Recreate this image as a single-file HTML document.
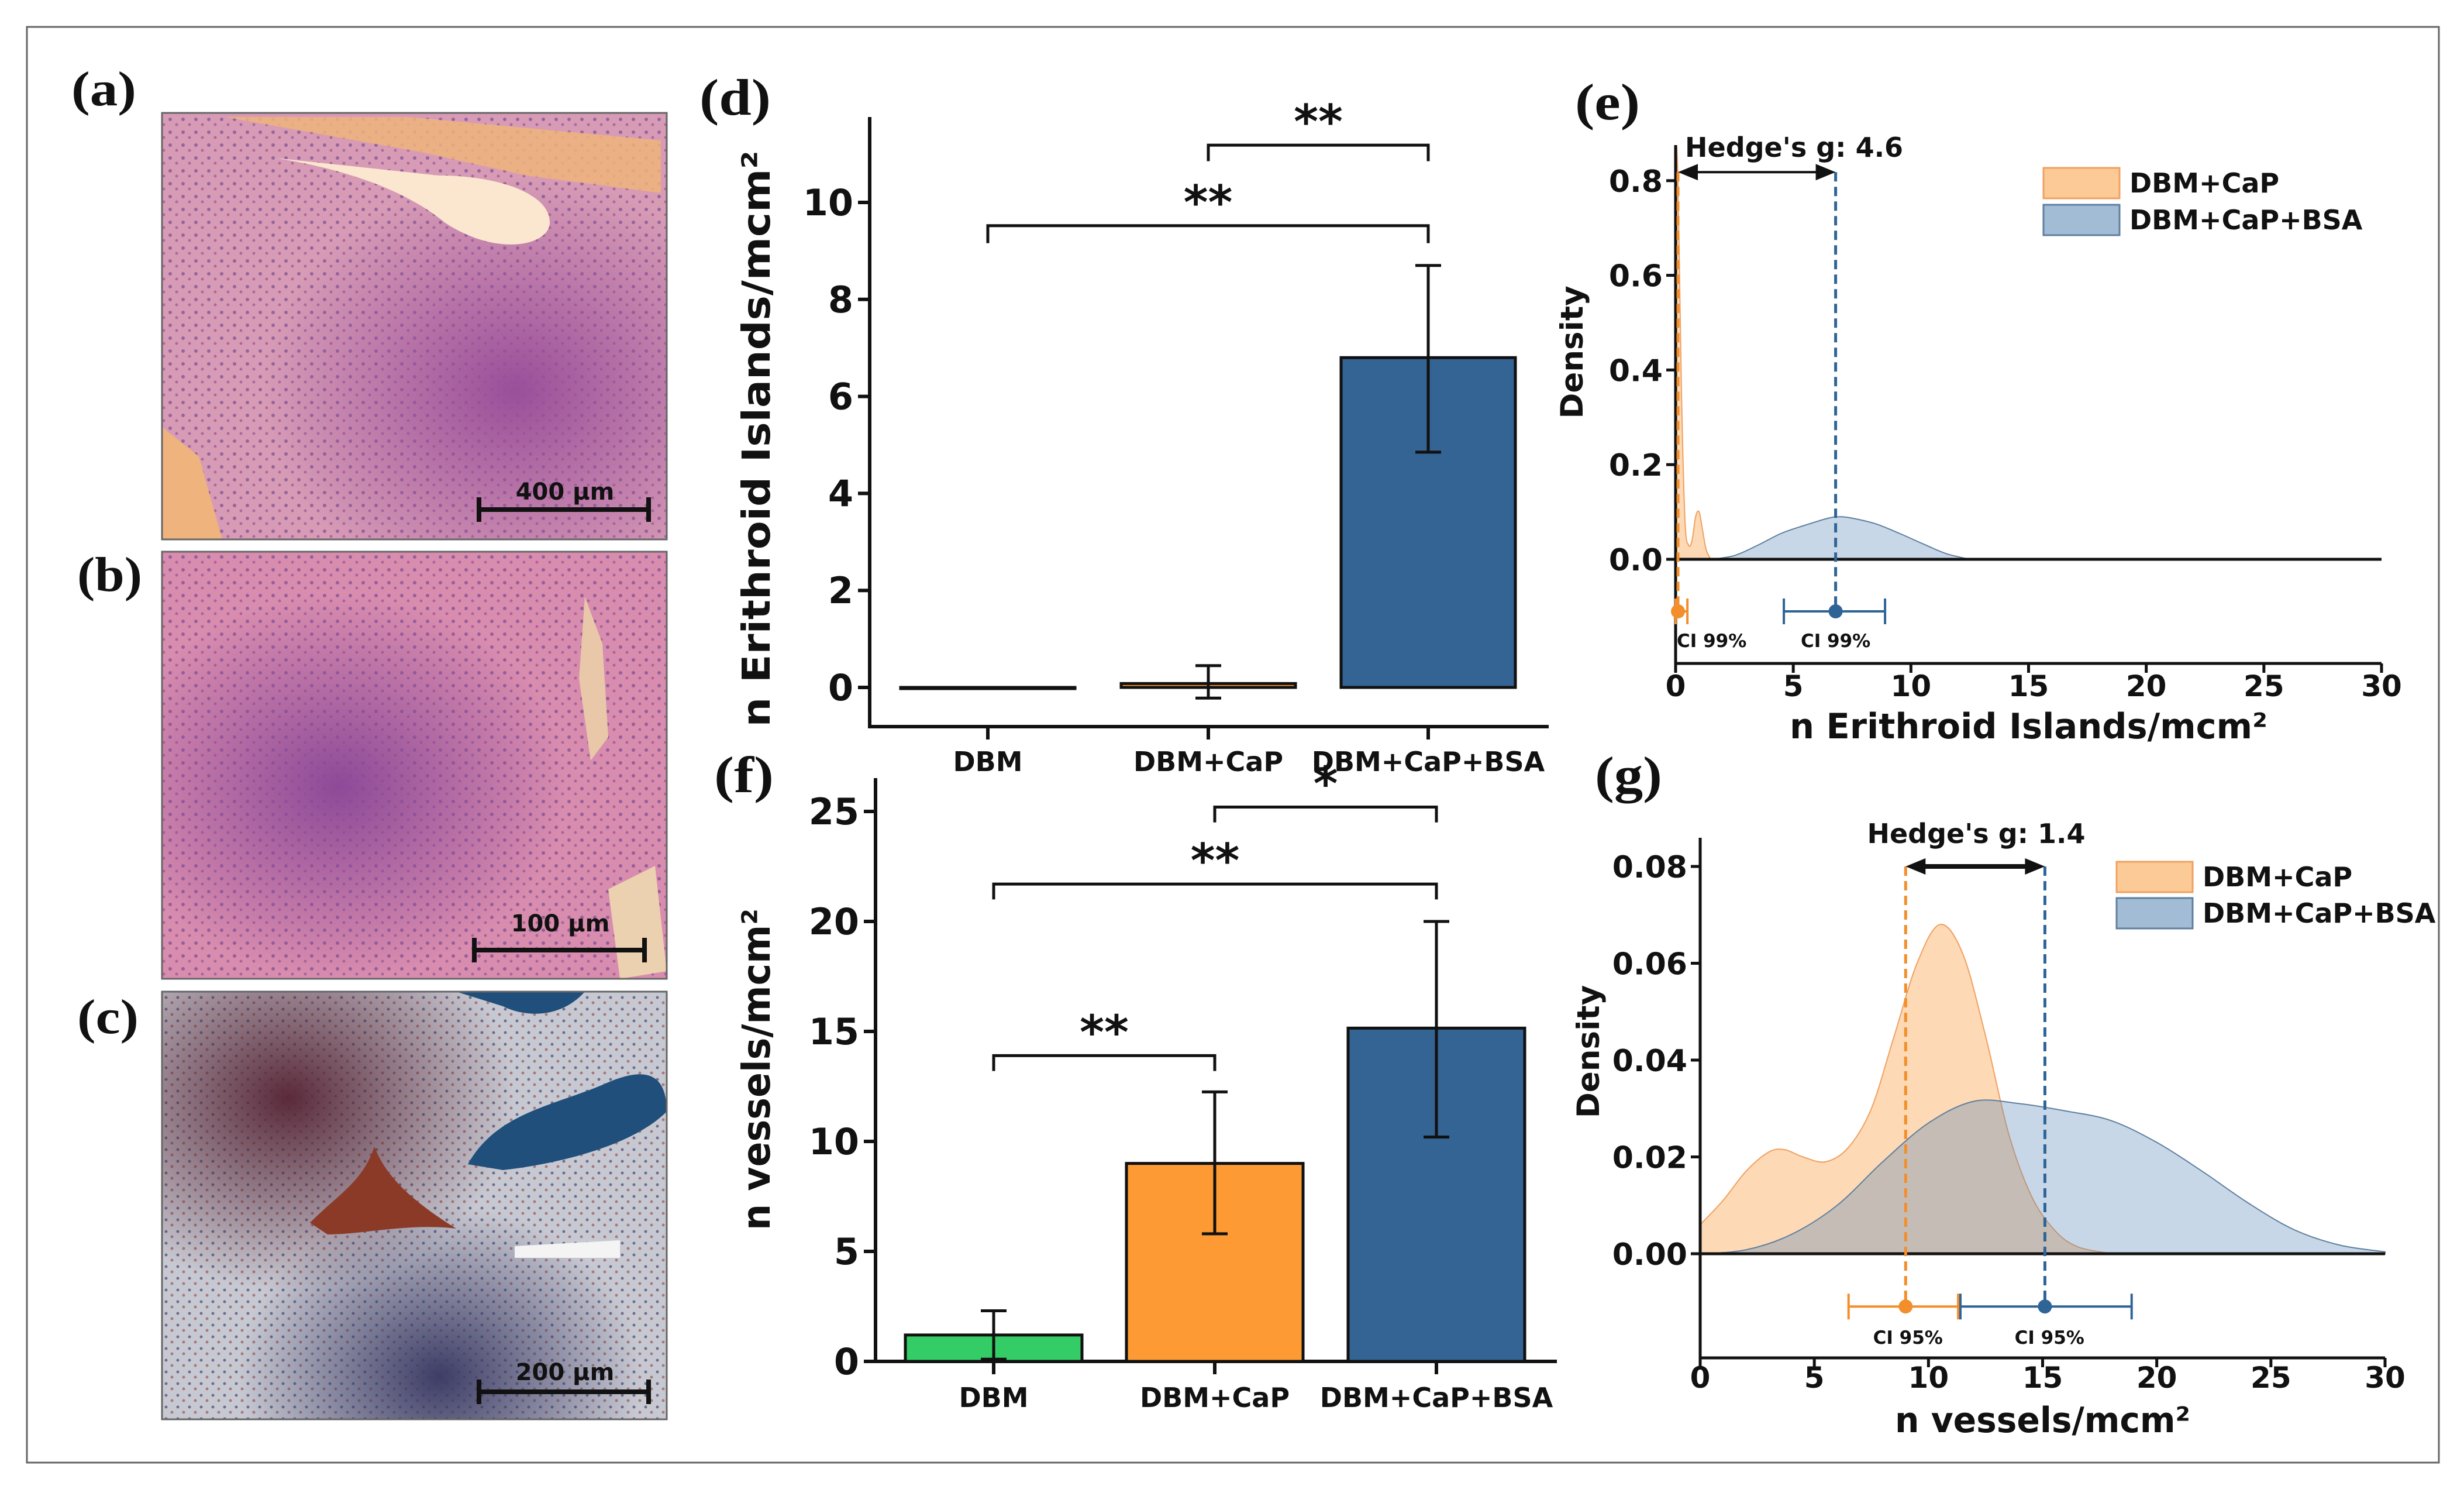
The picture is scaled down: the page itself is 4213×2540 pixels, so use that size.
<!DOCTYPE html>
<html><head><meta charset="utf-8"><style>
html,body{margin:0;padding:0;background:#fff}
svg{display:block}
text{font-family:"DejaVu Sans","Liberation Sans",sans-serif;font-weight:bold;fill:#111}
.lab{font-family:"Liberation Serif",serif;font-weight:bold}
</style></head><body>
<svg id="fig" width="4213" height="2540" viewBox="0 0 4213 2540" xmlns="http://www.w3.org/2000/svg">
<defs>
<radialGradient id="gA2" cx="0.7" cy="0.65" r="0.5"><stop offset="0" stop-color="#9a4f9a"/><stop offset="1" stop-color="#9a4f9a" stop-opacity="0"/></radialGradient>
<radialGradient id="gB1" cx="0.35" cy="0.55" r="0.45"><stop offset="0" stop-color="#8d4a98"/><stop offset="1" stop-color="#8d4a98" stop-opacity="0"/></radialGradient>
<radialGradient id="gC1" cx="0.25" cy="0.25" r="0.45"><stop offset="0" stop-color="#5a2a3a"/><stop offset="1" stop-color="#5a2a3a" stop-opacity="0"/></radialGradient>
<radialGradient id="gC2" cx="0.55" cy="0.9" r="0.4"><stop offset="0" stop-color="#3d3d66"/><stop offset="1" stop-color="#3d3d66" stop-opacity="0"/></radialGradient>
<pattern id="dotsP" width="22" height="22" patternUnits="userSpaceOnUse"><circle cx="5" cy="6" r="3" fill="#6a3f8f" opacity="0.6"/><circle cx="16" cy="15" r="2.5" fill="#7c3c8a" opacity="0.5"/></pattern>
<pattern id="dotsC" width="20" height="20" patternUnits="userSpaceOnUse"><circle cx="4" cy="5" r="2.5" fill="#3a2d5a" opacity="0.6"/><circle cx="14" cy="14" r="2.5" fill="#8a2a2a" opacity="0.5"/></pattern>
<clipPath id="clipE"><rect x="2865" y="248" width="1210" height="900"/></clipPath>
</defs>

<rect x="46" y="46" width="4124" height="2454" fill="none" stroke="#666" stroke-width="3"/>

<g>
<rect x="277" y="193" width="863" height="729" fill="#d79bb5"/>
<rect x="277" y="193" width="863" height="729" fill="url(#dotsP)"/>
<rect x="277" y="193" width="863" height="729" fill="url(#gA2)"/>
<path d="M385 200 L700 200 L1130 240 L1130 330 L900 300 L720 260 Z" fill="#eeb47a" opacity="0.85"/>
<path d="M470 270 C600 290 700 330 760 380 C850 440 940 420 940 380 C940 330 850 300 750 300 Z" fill="#fbe7cf"/>
<path d="M277 730 L340 780 L380 922 L277 922 Z" fill="#efb37e"/>
<rect x="277" y="193" width="863" height="729" fill="none" stroke="#666" stroke-width="3"/>
<line x1="819" y1="871" x2="1109" y2="871" stroke="#111" stroke-width="8"/>
<line x1="819" y1="850" x2="819" y2="892" stroke="#111" stroke-width="8"/>
<line x1="1109" y1="850" x2="1109" y2="892" stroke="#111" stroke-width="8"/>
<text x="966" y="854" font-size="40" text-anchor="middle">400 μm</text>
</g>
<g>
<rect x="277" y="943" width="863" height="730" fill="#d88cae"/>
<rect x="277" y="943" width="863" height="730" fill="url(#dotsP)"/>
<rect x="277" y="943" width="863" height="730" fill="url(#gB1)"/>
<path d="M1000 1020 L1030 1100 L1040 1260 L1010 1300 L990 1160 Z" fill="#e8c8a8"/>
<path d="M1040 1520 L1120 1480 L1140 1660 L1060 1673 Z" fill="#ecd1b0"/>
<rect x="277" y="943" width="863" height="730" fill="none" stroke="#666" stroke-width="3"/>
<line x1="811" y1="1624" x2="1102" y2="1624" stroke="#111" stroke-width="8"/>
<line x1="811" y1="1603" x2="811" y2="1645" stroke="#111" stroke-width="8"/>
<line x1="1102" y1="1603" x2="1102" y2="1645" stroke="#111" stroke-width="8"/>
<text x="958" y="1592" font-size="40" text-anchor="middle">100 μm</text>
</g>
<g>
<rect x="277" y="1695" width="863" height="731" fill="#c7c9d2"/>
<rect x="277" y="1695" width="863" height="731" fill="url(#dotsC)"/>
<rect x="277" y="1695" width="863" height="731" fill="url(#gC1)"/>
<rect x="277" y="1695" width="863" height="731" fill="url(#gC2)"/>
<path d="M780 1695 L1000 1695 C960 1740 900 1740 860 1720 Z" fill="#1f4f7a"/>
<path d="M800 1990 C850 1900 950 1890 1040 1850 C1110 1820 1140 1840 1140 1900 C1080 1960 950 1990 860 2000 Z" fill="#1f4f7a"/>
<path d="M530 2090 C580 2040 620 2020 640 1960 C660 2010 700 2050 780 2100 C700 2090 620 2110 560 2110 Z" fill="#8a3a26"/>
<path d="M880 2130 L1060 2120 L1060 2150 L880 2150 Z" fill="#f4f4f4"/>
<rect x="277" y="1695" width="863" height="731" fill="none" stroke="#666" stroke-width="3"/>
<line x1="819" y1="2379" x2="1109" y2="2379" stroke="#111" stroke-width="8"/>
<line x1="819" y1="2358" x2="819" y2="2400" stroke="#111" stroke-width="8"/>
<line x1="1109" y1="2358" x2="1109" y2="2400" stroke="#111" stroke-width="8"/>
<text x="966" y="2359" font-size="40" text-anchor="middle">200 μm</text>
</g>

<text class="lab" x="122" y="180" font-size="84" textLength="111" lengthAdjust="spacingAndGlyphs">(a)</text>
<text class="lab" x="132" y="1010" font-size="84" textLength="111" lengthAdjust="spacingAndGlyphs">(b)</text>
<text class="lab" x="132" y="1766" font-size="84" textLength="105" lengthAdjust="spacingAndGlyphs">(c)</text>
<text class="lab" x="1196" y="196" font-size="88" textLength="122" lengthAdjust="spacingAndGlyphs">(d)</text>
<text class="lab" x="2693" y="204" font-size="88" textLength="111" lengthAdjust="spacingAndGlyphs">(e)</text>
<text class="lab" x="1221" y="1354" font-size="88" textLength="102" lengthAdjust="spacingAndGlyphs">(f)</text>
<text class="lab" x="2727" y="1354" font-size="88" textLength="115" lengthAdjust="spacingAndGlyphs">(g)</text>

<g id="charts"></g>
</svg>
<script>
// ---- Data ----
const categories = ["DBM", "DBM+CaP", "DBM+CaP+BSA"];
const erithroidMeans = [0, 0.08, 6.8];
const erithroidLow = [0, -0.22, 4.85];
const erithroidHigh = [0, 0.45, 8.7];
const erithroidTicks = [0, 2, 4, 6, 8, 10];
const vesselMeans = [1.2, 9.0, 15.15];
const vesselLow = [0.1, 5.8, 10.2];
const vesselHigh = [2.3, 12.25, 20.0];
const vesselTicks = [0, 5, 10, 15, 20, 25];
const barColors = ["#33cc66", "#fd9a33", "#336494"];
const eKdeBlueX = [1.5, 2.5, 3.5, 4.5, 5.5, 6.5, 7, 7.5, 8.5, 9.5, 10.5, 11.5, 12.5];
const eKdeBlueY = [0, 0.008, 0.03, 0.055, 0.072, 0.087, 0.09, 0.087, 0.075, 0.055, 0.033, 0.012, 0];
const eKdeOrangeX = [0, 0.1, 0.25, 0.4, 0.55, 0.7, 0.85, 1.0, 1.15, 1.3, 1.5];
const eKdeOrangeY = [0.9, 0.8, 0.35, 0.08, 0.03, 0.04, 0.09, 0.1, 0.06, 0.02, 0];
const eYTicks = [0, 0.2, 0.4, 0.6, 0.8];
const eXTicks = [0, 5, 10, 15, 20, 25, 30];
const eMeans = [0.1, 6.8];
const eCiLow = [0.0, 4.6];
const eCiHigh = [0.5, 8.9];
const gKdeOrangeX = [0, 1, 2, 3, 3.7, 4.5, 5.5, 6.5, 7.5, 8.5, 9.5, 10.5, 11.5, 12.5, 13.5, 14.5, 15.5, 16.5, 18];
const gKdeOrangeY = [0.006, 0.011, 0.017, 0.021, 0.0215, 0.02, 0.019, 0.022, 0.03, 0.045, 0.06, 0.068, 0.062, 0.045, 0.025, 0.012, 0.005, 0.0015, 0];
const gKdeBlueX = [0, 2, 4, 6, 8, 10, 12, 14, 16, 18, 20, 22, 24, 26, 28, 30];
const gKdeBlueY = [0, 0.0008, 0.004, 0.01, 0.019, 0.027, 0.0315, 0.031, 0.0295, 0.0275, 0.023, 0.017, 0.0105, 0.005, 0.0018, 0.0004];
const gYTicks = [0, 0.02, 0.04, 0.06, 0.08];
const gXTicks = [0, 5, 10, 15, 20, 25, 30];
const gMeans = [9.0, 15.1];
const gCiLow = [6.5, 11.4];
const gCiHigh = [11.3, 18.9];

const NS = "http://www.w3.org/2000/svg";
const root = document.getElementById("charts");
function mk(tag, attrs, parent) {
  const e = document.createElementNS(NS, tag);
  for (const k in attrs) e.setAttribute(k, attrs[k]);
  (parent || root).appendChild(e);
  return e;
}
function txt(s, attrs, parent) { const t = mk("text", attrs, parent); t.textContent = s; return t; }
function smoothPath(pts) {
  let d = "M" + pts[0][0] + " " + pts[0][1];
  for (let i = 0; i < pts.length - 1; i++) {
    const p0 = pts[Math.max(i - 1, 0)], p1 = pts[i], p2 = pts[i + 1], p3 = pts[Math.min(i + 2, pts.length - 1)];
    const c1x = p1[0] + (p2[0] - p0[0]) / 6, c1y = p1[1] + (p2[1] - p0[1]) / 6;
    const c2x = p2[0] - (p3[0] - p1[0]) / 6, c2y = p2[1] - (p3[1] - p1[1]) / 6;
    d += " C" + c1x + " " + c1y + " " + c2x + " " + c2y + " " + p2[0] + " " + p2[1];
  }
  return d;
}

function barChart(cfg) {
  const g = mk("g", {});
  
  
  const y = v => cfg.y0 - v * cfg.pxPerUnit;
  const x = i => cfg.catX[i];
  const ya = mk("line", {x1: cfg.axX, y1: cfg.top, x2: cfg.axX, y2: cfg.bottom, stroke: "#111", "stroke-width": 6}, g);
  
  
  const xa = mk("line", {x1: cfg.axX - 3, y1: cfg.bottom, x2: cfg.right, y2: cfg.bottom, stroke: "#111", "stroke-width": 6}, g);
  
  
  cfg.ticks.forEach(t => {
    mk("line", {x1: cfg.axX - 20, y1: y(t), x2: cfg.axX, y2: y(t), stroke: "#111", "stroke-width": 6}, g);
    const tl = txt(String(t), {x: cfg.axX - 28, y: y(t) + 22, "font-size": 62, "text-anchor": "end"}, g);
    
    
  });
  categories.forEach((c, i) => {
    mk("line", {x1: x(i), y1: cfg.bottom, x2: x(i), y2: cfg.bottom + 22, stroke: "#111", "stroke-width": 6}, g);
    const cl = txt(c, {x: x(i), y: cfg.labelY, "font-size": 46, "text-anchor": "middle"}, g);
    
    
    const v = cfg.means[i];
    const top = Math.min(y(v), y(0)), h = Math.max(Math.abs(y(0) - y(v)), 2);
    const b = mk("rect", {x: x(i) - cfg.barW / 2, y: top, width: cfg.barW, height: h, fill: cfg.colors[i], stroke: "#111", "stroke-width": 5}, g);
    
    
    if (cfg.high[i] !== cfg.low[i]) {
      const eg = mk("g", {stroke: "#111", "stroke-width": 5}, g);
      
      
      mk("line", {x1: x(i), y1: y(cfg.low[i]), x2: x(i), y2: y(cfg.high[i])}, eg);
      mk("line", {x1: x(i) - 22, y1: y(cfg.low[i]), x2: x(i) + 22, y2: y(cfg.low[i])}, eg);
      mk("line", {x1: x(i) - 22, y1: y(cfg.high[i]), x2: x(i) + 22, y2: y(cfg.high[i])}, eg);
    }
  });
  cfg.brackets.forEach(br => {
    const by = y(br.level), dy = y(br.level - br.drop);
    const p = mk("path", {d: `M${x(br.a)} ${dy} L${x(br.a)} ${by} L${x(br.b)} ${by} L${x(br.b)} ${dy}`, fill: "none", stroke: "#111", "stroke-width": 5}, g);
    
    
    const s = txt(br.label, {x: (x(br.a) + x(br.b)) / 2, y: by - 12, "font-size": 80, "text-anchor": "middle"}, g);
    
    
  });
  const yl = txt(cfg.ylabel, {x: cfg.ylabX, y: cfg.ylabY, "font-size": 66, "text-anchor": "middle", textLength: cfg.ylabLen, lengthAdjust: "spacingAndGlyphs", transform: `rotate(-90 ${cfg.ylabX} ${cfg.ylabY})`}, g);
  
  
}

barChart({name: "erithroid-bar-chart", y0: 1175, pxPerUnit: 82.9, axX: 1487, top: 200, bottom: 1242, right: 2648,
  catX: [1689, 2066, 2442], barW: 298, labelY: 1318, ticks: erithroidTicks, means: erithroidMeans, low: erithroidLow, high: erithroidHigh,
  colors: ["#ffffff", barColors[1], barColors[2]],
  brackets: [{a: 1, b: 2, level: 11.18, drop: 0.33, label: "**"}, {a: 0, b: 2, level: 9.52, drop: 0.36, label: "**"}],
  ylabel: "n Erithroid Islands/mcm²", ylabX: 1316, ylabY: 750, ylabLen: 985});

barChart({name: "vessels-bar-chart", y0: 2327, pxPerUnit: 37.6, axX: 1497, top: 1330, bottom: 2327, right: 2662,
  catX: [1699, 2077, 2456], barW: 302, labelY: 2405, ticks: vesselTicks, means: vesselMeans, low: vesselLow, high: vesselHigh,
  colors: barColors,
  brackets: [{a: 1, b: 2, level: 25.2, drop: 0.7, label: "*"}, {a: 0, b: 2, level: 21.7, drop: 0.7, label: "**"}, {a: 0, b: 1, level: 13.9, drop: 0.7, label: "**"}],
  ylabel: "n vessels/mcm²", ylabX: 1316, ylabY: 1828, ylabLen: 550});

function densityChart(cfg) {
  const g = mk("g", {});
  
  
  const X = v => cfg.x0 + v * cfg.pxX;
  const Y = v => cfg.y0 - v * cfg.pxY;
  const series = [
    {xs: cfg.oX, ys: cfg.oY, fill: "#fbb36b", op: 0.5, stroke: "#f0a060", name: "kde-dbm-cap"},
    {xs: cfg.bX, ys: cfg.bY, fill: "#5585b5", op: 0.33, stroke: "#5f7f9f", name: "kde-dbm-cap-bsa"}
  ];
  const area = mk("g", cfg.clip ? {"clip-path": "url(#" + cfg.clip + ")"} : {}, g);
  series.forEach(s => {
    const pts = s.xs.map((v, i) => [X(v), Y(s.ys[i])]);
    const d = smoothPath(pts) + ` L${X(s.xs[s.xs.length - 1])} ${Y(0)} L${X(s.xs[0])} ${Y(0)} Z`;
    const p = mk("path", {d: d, fill: s.fill, "fill-opacity": s.op, stroke: s.stroke, "stroke-width": 2}, area);
    
    
  });
  const ya = mk("line", {x1: X(0), y1: cfg.top, x2: X(0), y2: cfg.bottom, stroke: "#111", "stroke-width": 5}, g);
  
  
  const xa = mk("line", {x1: X(0), y1: cfg.bottom, x2: X(30), y2: cfg.bottom, stroke: "#111", "stroke-width": 5}, g);
  
  
  const zl = mk("line", {x1: X(0), y1: Y(0), x2: X(30), y2: Y(0), stroke: "#111", "stroke-width": 5}, g);
  
  
  cfg.yTicks.forEach(t => {
    mk("line", {x1: X(0) - 16, y1: Y(t), x2: X(0), y2: Y(t), stroke: "#111", "stroke-width": 5}, g);
    const tl = txt(cfg.fmt(t), {x: X(0) - 22, y: Y(t) + 19, "font-size": 52, "text-anchor": "end"}, g);
    
    
  });
  cfg.xTicks.forEach(t => {
    mk("line", {x1: X(t), y1: cfg.bottom, x2: X(t), y2: cfg.bottom + 16, stroke: "#111", "stroke-width": 5}, g);
    const tl = txt(String(t), {x: X(t), y: cfg.xtickY, "font-size": 50, "text-anchor": "middle"}, g);
    
    
  });
  const cols = ["#f28e2b", "#2f6497"];
  cfg.means.forEach((m, i) => {
    const dl = mk("line", {x1: X(m), y1: Y(cfg.arrowY), x2: X(m), y2: Y(cfg.ciY), stroke: cols[i], "stroke-width": 5, "stroke-dasharray": "16 9"}, g);
    
    
    const cg = mk("g", {stroke: cols[i], "stroke-width": 4}, g);
    
    
    mk("line", {x1: X(cfg.ciLow[i]), y1: Y(cfg.ciY), x2: X(cfg.ciHigh[i]), y2: Y(cfg.ciY)}, cg);
    mk("line", {x1: X(cfg.ciLow[i]), y1: Y(cfg.ciY) - 22, x2: X(cfg.ciLow[i]), y2: Y(cfg.ciY) + 22}, cg);
    mk("line", {x1: X(cfg.ciHigh[i]), y1: Y(cfg.ciY) - 22, x2: X(cfg.ciHigh[i]), y2: Y(cfg.ciY) + 22}, cg);
    mk("circle", {cx: X(m), cy: Y(cfg.ciY), r: 12, fill: cols[i], stroke: "none"}, cg);
    const ct = txt(cfg.ciLabel, {x: X(cfg.ciTextX[i]), y: cfg.ciTextY, "font-size": 31, "text-anchor": cfg.ciAnchor[i]}, g);
    
    
  });
  const ag = mk("g", {stroke: "#111", "stroke-width": cfg.arrowW, fill: "#111"}, g);
  
  
  const ax1 = X(cfg.means[0]), ax2 = X(cfg.means[1]), ay = Y(cfg.arrowY);
  mk("line", {x1: ax1 + 20, y1: ay, x2: ax2 - 20, y2: ay}, ag);
  mk("path", {d: `M${ax1} ${ay} L${ax1 + 34} ${ay - 14} L${ax1 + 34} ${ay + 14} Z`, stroke: "none"}, ag);
  mk("path", {d: `M${ax2} ${ay} L${ax2 - 34} ${ay - 14} L${ax2 - 34} ${ay + 14} Z`, stroke: "none"}, ag);
  const ht = txt(cfg.hedge, {x: cfg.hedgeX, y: cfg.hedgeY, "font-size": 46, "text-anchor": cfg.hedgeAnchor}, g);
  
  
  const lg = mk("g", {}, g);
  
  
  [["DBM+CaP", "#fbb36b", 0.7, "#f0a060"], ["DBM+CaP+BSA", "#5585b5", 0.55, "#5f7f9f"]].forEach((L, i) => {
    const yy = cfg.legY + i * cfg.legStep;
    const r = mk("rect", {x: cfg.legX, y: yy, width: 130, height: 52, fill: L[1], "fill-opacity": L[2], stroke: L[3], "stroke-width": 3}, lg);
    
    
    const t = txt(L[0], {x: cfg.legX + 147, y: yy + 42, "font-size": 46}, lg);
    
    
  });
  const dx = cfg.densX, dy = (cfg.top + Y(0)) / 2 + cfg.densDy;
  const dt = txt("Density", {x: dx, y: dy, "font-size": 53, "text-anchor": "middle", transform: `rotate(-90 ${dx} ${dy})`}, g);
  
  
  const xt = txt(cfg.xlabel, {x: (X(0) + X(30)) / 2, y: cfg.xlabY, "font-size": 60, "text-anchor": "middle", textLength: cfg.xlabLen, lengthAdjust: "spacingAndGlyphs"}, g);
  
  
}

densityChart({name: "erithroid-density-chart", x0: 2865, pxX: 1207 / 30, y0: 956, pxY: 809, top: 248, bottom: 1134,
  oX: eKdeOrangeX, oY: eKdeOrangeY, bX: eKdeBlueX, bY: eKdeBlueY, clip: "clipE",
  yTicks: eYTicks, xTicks: eXTicks, fmt: t => t.toFixed(1), xtickY: 1190,
  means: eMeans, ciLow: eCiLow, ciHigh: eCiHigh, ciY: -0.11, arrowY: 0.818, arrowW: 4,
  ciLabel: "CI 99%", ciTextX: [0.05, 6.8], ciAnchor: ["start", "middle"], ciTextY: 1106,
  hedge: "Hedge's g: 4.6", hedgeX: 2881, hedgeY: 268, hedgeAnchor: "start",
  legX: 3494, legY: 287, legStep: 63, densX: 2706, densDy: 0,
  xlabel: "n Erithroid Islands/mcm²", xlabY: 1262, xlabLen: 817});

densityChart({name: "vessels-density-chart", x0: 2907, pxX: 1171 / 30, y0: 2143, pxY: 165.5 / 0.02, top: 1432, bottom: 2321,
  oX: gKdeOrangeX, oY: gKdeOrangeY, bX: gKdeBlueX, bY: gKdeBlueY, clip: null,
  yTicks: gYTicks, xTicks: gXTicks, fmt: t => t.toFixed(2), xtickY: 2372,
  means: gMeans, ciLow: gCiLow, ciHigh: gCiHigh, ciY: -0.0109, arrowY: 0.08, arrowW: 8,
  ciLabel: "CI 95%", ciTextX: [9.1, 15.3], ciAnchor: ["middle", "middle"], ciTextY: 2297,
  hedge: "Hedge's g: 1.4", hedgeX: 3379, hedgeY: 1441, hedgeAnchor: "middle",
  legX: 3619, legY: 1473, legStep: 62, densX: 2734, densDy: 10,
  xlabel: "n vessels/mcm²", xlabY: 2448, xlabLen: 505});
</script>
</body></html>
